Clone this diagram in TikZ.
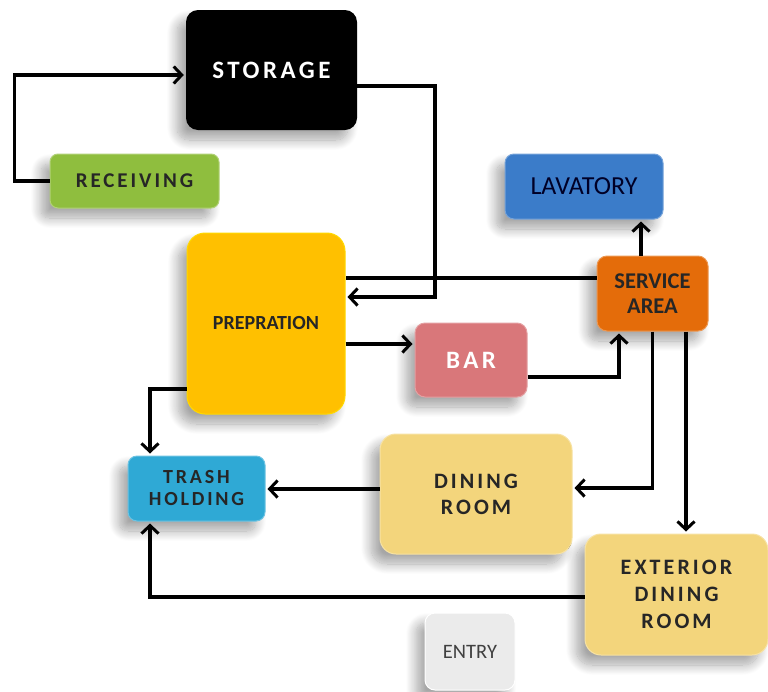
\documentclass[tikz,border=0pt]{standalone}
\usepackage{fontspec}
\setmainfont{Carlito}
\newfontfamily\spc[LetterSpace=14]{Carlito}
\usetikzlibrary{arrows.meta,shadows.blur}
\definecolor{recg}{HTML}{8FBE3E}
\definecolor{prepy}{HTML}{FFC000}
\definecolor{lavb}{HTML}{3B7CC9}
\definecolor{servo}{HTML}{E46C0A}
\definecolor{barr}{HTML}{D9777A}
\definecolor{dinY}{HTML}{F3D57C}
\definecolor{trashb}{HTML}{2FA9D5}
\definecolor{entg}{HTML}{EBEBEB}
\tikzset{
  box/.style={rounded corners=12pt, align=center, inner sep=0pt,
    blur shadow={shadow xshift=-9pt, shadow yshift=-10pt, shadow blur steps=14, shadow blur radius=10pt, shadow opacity=35}},
  arr/.style={line width=3.2pt, -{Straight Barb[length=8pt,width=17pt,line width=3pt]}, shorten >=2pt},
  plain/.style={line width=3.2pt}
}
\begin{document}
\begin{tikzpicture}[x=1pt,y=-1pt]
\useasboundingbox (0,0) rectangle (768,691);
% nodes
\node[box, fill=black, minimum width=171pt, minimum height=120pt, text=white, font=\spc\bfseries\fontsize{25}{28}\selectfont] (sto) at (271.5,70) {STORAGE};
\node[box, rounded corners=8pt, fill=recg, draw=recg!70!white, line width=1pt, minimum width=169pt, minimum height=54pt, text=black!85, font=\spc\bfseries\fontsize{21}{24}\selectfont] (rec) at (134.5,181) {RECEIVING};
\node[box, rounded corners=18pt, fill=prepy, draw=prepy!60!yellow, line width=1pt, minimum width=158pt, minimum height=181pt, text=black!85, font=\bfseries\fontsize{20}{24}\selectfont] (prep) at (266,323.5) {PREPRATION};
\node[box, rounded corners=9pt, fill=lavb, draw=lavb!70!white, line width=1pt, minimum width=158pt, minimum height=65pt, text=black!85!blue, font=\fontsize{26}{30}\selectfont] (lav) at (584,186.5) {LAVATORY};
\node[box, rounded corners=10pt, fill=servo, draw=servo!70!white, line width=1pt, minimum width=111pt, minimum height=75pt, text=black!85, font=\bfseries\fontsize{22.5}{25}\selectfont] (serv) at (652.5,293.5) {SERVICE\\AREA};
\node[box, rounded corners=10pt, fill=barr, draw=barr!70!white, line width=1pt, minimum width=112pt, minimum height=74pt, text=white, font=\spc\bfseries\fontsize{25}{28}\selectfont] (bar) at (471,360) {BAR};
\node[box, rounded corners=16pt, fill=dinY, draw=dinY!70!white, line width=1pt, minimum width=192pt, minimum height=120pt, text=black!85, font=\spc\bfseries\fontsize{22}{26}\selectfont] (din) at (476,494) {DINING\\ROOM};
\node[box, rounded corners=9pt, fill=trashb, draw=trashb!70!white, line width=1pt, minimum width=137pt, minimum height=65pt, text=black!85, font=\spc\bfseries\fontsize{20}{22}\selectfont] (trash) at (196.5,488.5) {TRASH\\HOLDING};
\node[box, rounded corners=16pt, fill=dinY, draw=dinY!70!white, line width=1pt, minimum width=183pt, minimum height=121pt, text=black!85, font=\spc\bfseries\fontsize{22}{27}\selectfont] (ext) at (676.5,594.5) {EXTERIOR\\DINING\\ROOM};
\node[box, rounded corners=10pt, fill=entg, draw=white, line width=1pt, minimum width=90pt, minimum height=77pt, text=black!75, font=\fontsize{20.5}{24}\selectfont] (entry) at (470,651.5) {ENTRY};
% connectors
\draw[arr] (rec.west) -- ++(-35,0) |- ([yshift=-5pt]sto.west);
\coordinate (c1) at (435,297);
\draw[arr] ([yshift=-16pt]sto.east) -| (c1) -- (prep.east |- c1);
\draw[plain] ([yshift=15.5pt]serv.west) coordinate (s0) -- (prep.east |- s0);
\draw[arr] ([yshift=-20.5pt]prep.east) coordinate (p1) -- (bar.west |- p1);
\draw[arr] ([yshift=-17pt]bar.east) -| ([xshift=-33.5pt]serv.south);
\draw[arr] ([xshift=-11.5pt]serv.north) coordinate (s1) -- (s1 |- lav.south);
\draw[arr] (serv.south) |- ([yshift=6pt]din.east);
\draw[arr] ([xshift=33.5pt]serv.south) coordinate (s2) -- (s2 |- ext.north);
\draw[arr] ([yshift=5pt]din.west) coordinate (d1) -- (trash.east |- d1);
\draw[arr] ([yshift=-65.5pt]prep.west) -| ([xshift=-46.5pt]trash.north);
\draw[arr] ([yshift=-2.5pt]ext.west) -| ([xshift=-46.5pt]trash.south);
\end{tikzpicture}
\end{document}
